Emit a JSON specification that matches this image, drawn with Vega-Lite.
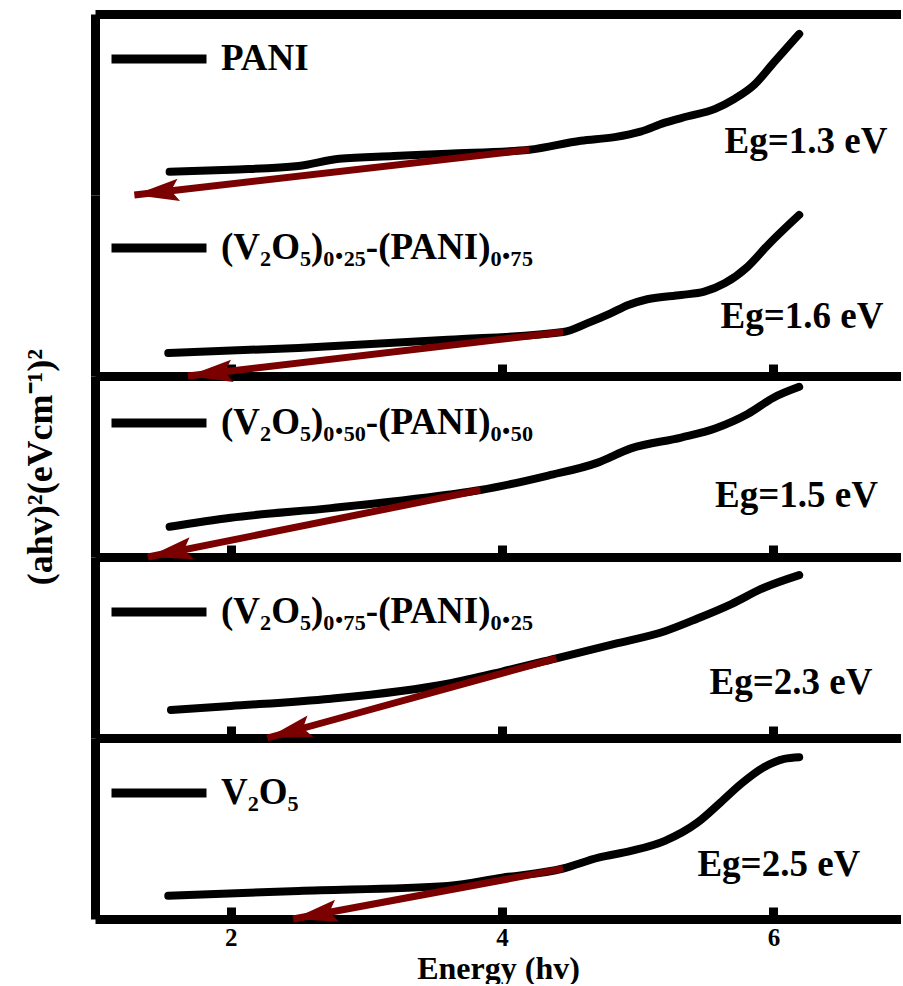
{
  "$schema": "https://vega.github.io/schema/vega-lite/v6.json",
  "padding": {"left": 22, "top": 7, "right": 0, "bottom": 0},
  "background": "white",
  "config": {
    "font": "Liberation Serif",
    "view": {"stroke": null},
    "axis": {"labelFont": "Liberation Serif", "labelFontSize": 25, "labelFontWeight": "bold", "labelColor": "black", "titleFont": "Liberation Serif", "titleFontSize": 34, "titleFontWeight": "bold", "titleColor": "black", "grid": false},
    "legend": {"orient": "none", "legendX": 12, "labelFont": "Liberation Serif", "labelFontSize": 37, "labelFontWeight": "bold", "labelColor": "black", "labelLimit": 1000, "symbolType": "stroke", "symbolSize": 9025, "symbolStrokeWidth": 9, "labelOffset": 10}
  },
  "datasets": {
    "curves": [
      {"sample": "PANI", "E": 1.55, "v": 12.8}, {"sample": "PANI", "E": 2.0, "v": 14}, {"sample": "PANI", "E": 2.5, "v": 16}, {"sample": "PANI", "E": 2.8, "v": 20}, {"sample": "PANI", "E": 3.2, "v": 21.5}, {"sample": "PANI", "E": 3.6, "v": 22.8}, {"sample": "PANI", "E": 4.2, "v": 25}, {"sample": "PANI", "E": 4.58, "v": 30}, {"sample": "PANI", "E": 4.83, "v": 32}, {"sample": "PANI", "E": 5.02, "v": 35}, {"sample": "PANI", "E": 5.2, "v": 40}, {"sample": "PANI", "E": 5.37, "v": 43.5}, {"sample": "PANI", "E": 5.57, "v": 47.6}, {"sample": "PANI", "E": 5.71, "v": 53}, {"sample": "PANI", "E": 5.86, "v": 61}, {"sample": "PANI", "E": 6.0, "v": 73}, {"sample": "PANI", "E": 6.19, "v": 89},
      {"sample": "(V₂O₅)₀.₂₅-(PANI)₀.₇₅", "E": 1.54, "v": 12.7}, {"sample": "(V₂O₅)₀.₂₅-(PANI)₀.₇₅", "E": 2.5, "v": 15.5}, {"sample": "(V₂O₅)₀.₂₅-(PANI)₀.₇₅", "E": 3.6, "v": 20}, {"sample": "(V₂O₅)₀.₂₅-(PANI)₀.₇₅", "E": 4.45, "v": 24.3}, {"sample": "(V₂O₅)₀.₂₅-(PANI)₀.₇₅", "E": 4.63, "v": 29.2}, {"sample": "(V₂O₅)₀.₂₅-(PANI)₀.₇₅", "E": 4.8, "v": 34.6}, {"sample": "(V₂O₅)₀.₂₅-(PANI)₀.₇₅", "E": 4.93, "v": 39.2}, {"sample": "(V₂O₅)₀.₂₅-(PANI)₀.₇₅", "E": 5.07, "v": 42.4}, {"sample": "(V₂O₅)₀.₂₅-(PANI)₀.₇₅", "E": 5.32, "v": 44.8}, {"sample": "(V₂O₅)₀.₂₅-(PANI)₀.₇₅", "E": 5.49, "v": 46.6}, {"sample": "(V₂O₅)₀.₂₅-(PANI)₀.₇₅", "E": 5.64, "v": 51.2}, {"sample": "(V₂O₅)₀.₂₅-(PANI)₀.₇₅", "E": 5.81, "v": 60.4}, {"sample": "(V₂O₅)₀.₂₅-(PANI)₀.₇₅", "E": 5.96, "v": 72.4}, {"sample": "(V₂O₅)₀.₂₅-(PANI)₀.₇₅", "E": 6.19, "v": 89},
      {"sample": "(V₂O₅)₀.₅₀-(PANI)₀.₅₀", "E": 1.55, "v": 16.7}, {"sample": "(V₂O₅)₀.₅₀-(PANI)₀.₅₀", "E": 2.0, "v": 21.7}, {"sample": "(V₂O₅)₀.₅₀-(PANI)₀.₅₀", "E": 2.74, "v": 27}, {"sample": "(V₂O₅)₀.₅₀-(PANI)₀.₅₀", "E": 3.6, "v": 34.4}, {"sample": "(V₂O₅)₀.₅₀-(PANI)₀.₅₀", "E": 3.84, "v": 37}, {"sample": "(V₂O₅)₀.₅₀-(PANI)₀.₅₀", "E": 4.34, "v": 45}, {"sample": "(V₂O₅)₀.₅₀-(PANI)₀.₅₀", "E": 4.7, "v": 52}, {"sample": "(V₂O₅)₀.₅₀-(PANI)₀.₅₀", "E": 4.95, "v": 60}, {"sample": "(V₂O₅)₀.₅₀-(PANI)₀.₅₀", "E": 5.32, "v": 66}, {"sample": "(V₂O₅)₀.₅₀-(PANI)₀.₅₀", "E": 5.57, "v": 71}, {"sample": "(V₂O₅)₀.₅₀-(PANI)₀.₅₀", "E": 5.81, "v": 79}, {"sample": "(V₂O₅)₀.₅₀-(PANI)₀.₅₀", "E": 6.0, "v": 88}, {"sample": "(V₂O₅)₀.₅₀-(PANI)₀.₅₀", "E": 6.19, "v": 94},
      {"sample": "(V₂O₅)₀.₇₅-(PANI)₀.₂₅", "E": 1.56, "v": 15.5}, {"sample": "(V₂O₅)₀.₇₅-(PANI)₀.₂₅", "E": 2.0, "v": 17.7}, {"sample": "(V₂O₅)₀.₇₅-(PANI)₀.₂₅", "E": 2.74, "v": 21.7}, {"sample": "(V₂O₅)₀.₇₅-(PANI)₀.₂₅", "E": 3.6, "v": 30}, {"sample": "(V₂O₅)₀.₇₅-(PANI)₀.₂₅", "E": 4.0, "v": 36.7}, {"sample": "(V₂O₅)₀.₇₅-(PANI)₀.₂₅", "E": 4.4, "v": 44}, {"sample": "(V₂O₅)₀.₇₅-(PANI)₀.₂₅", "E": 4.83, "v": 52}, {"sample": "(V₂O₅)₀.₇₅-(PANI)₀.₂₅", "E": 5.2, "v": 59}, {"sample": "(V₂O₅)₀.₇₅-(PANI)₀.₂₅", "E": 5.44, "v": 66}, {"sample": "(V₂O₅)₀.₇₅-(PANI)₀.₂₅", "E": 5.69, "v": 74}, {"sample": "(V₂O₅)₀.₇₅-(PANI)₀.₂₅", "E": 5.93, "v": 83}, {"sample": "(V₂O₅)₀.₇₅-(PANI)₀.₂₅", "E": 6.19, "v": 90},
      {"sample": "V₂O₅", "E": 1.54, "v": 12.8}, {"sample": "V₂O₅", "E": 2.5, "v": 15.5}, {"sample": "V₂O₅", "E": 3.6, "v": 18.3}, {"sample": "V₂O₅", "E": 4.0, "v": 22.8}, {"sample": "V₂O₅", "E": 4.45, "v": 27.9}, {"sample": "V₂O₅", "E": 4.71, "v": 33.9}, {"sample": "V₂O₅", "E": 4.95, "v": 37.6}, {"sample": "V₂O₅", "E": 5.2, "v": 43.2}, {"sample": "V₂O₅", "E": 5.44, "v": 53.3}, {"sample": "V₂O₅", "E": 5.61, "v": 64.4}, {"sample": "V₂O₅", "E": 5.76, "v": 74.6}, {"sample": "V₂O₅", "E": 5.93, "v": 83.9}, {"sample": "V₂O₅", "E": 6.08, "v": 88.5}, {"sample": "V₂O₅", "E": 6.19, "v": 89.4}
    ],
    "fits": [
      {"sample": "PANI", "point": "tip", "E": 1.29, "v": 0}, {"sample": "PANI", "point": "end", "E": 4.2, "v": 25},
      {"sample": "(V₂O₅)₀.₂₅-(PANI)₀.₇₅", "point": "tip", "E": 1.685, "v": 0}, {"sample": "(V₂O₅)₀.₂₅-(PANI)₀.₇₅", "point": "end", "E": 4.45, "v": 24.3},
      {"sample": "(V₂O₅)₀.₅₀-(PANI)₀.₅₀", "point": "tip", "E": 1.39, "v": 0}, {"sample": "(V₂O₅)₀.₅₀-(PANI)₀.₅₀", "point": "end", "E": 3.84, "v": 37},
      {"sample": "(V₂O₅)₀.₇₅-(PANI)₀.₂₅", "point": "tip", "E": 2.27, "v": 0}, {"sample": "(V₂O₅)₀.₇₅-(PANI)₀.₂₅", "point": "end", "E": 4.4, "v": 44},
      {"sample": "V₂O₅", "point": "tip", "E": 2.46, "v": 0}, {"sample": "V₂O₅", "point": "end", "E": 4.45, "v": 27.8}
    ],
    "eglabels": [
      {"sample": "PANI", "Eg": 1.3},
      {"sample": "(V₂O₅)₀.₂₅-(PANI)₀.₇₅", "Eg": 1.6},
      {"sample": "(V₂O₅)₀.₅₀-(PANI)₀.₅₀", "Eg": 1.5},
      {"sample": "(V₂O₅)₀.₇₅-(PANI)₀.₂₅", "Eg": 2.3},
      {"sample": "V₂O₅", "Eg": 2.5}
    ]
  },
  "spacing": 0,
  "bounds": "flush",
  "resolve": {"scale": {"color": "independent"}, "legend": {"color": "independent"}},
  "vconcat": [
    {
      "width": 806, "height": 181,
      "layer": [
        {"data": {"name": "curves"}, "transform": [{"filter": {"field": "sample", "equal": "PANI"}}], "mark": {"type": "line", "strokeWidth": 8, "strokeCap": "round", "strokeJoin": "round", "interpolate": "monotone"},
         "encoding": {
           "x": {"field": "E", "type": "quantitative", "scale": {"domain": [1, 6.94], "nice": false, "zero": false}, "axis": {"values": [2, 4, 6], "labels": false, "title": null, "tickSize": -12, "tickWidth": 9, "tickColor": "black", "domainWidth": 9, "domainColor": "black"}},
           "y": {"field": "v", "type": "quantitative", "scale": {"domain": [0, 100], "nice": false, "zero": false}, "axis": {"ticks": false, "labels": false, "title": null, "domainWidth": 9, "domainColor": "black"}},
           "color": {"field": "sample", "type": "nominal", "scale": {"range": ["#000000"]}, "legend": {"title": null, "legendY": -7}}}},
        {"data": {"name": "fits"}, "transform": [{"filter": {"field": "sample", "equal": "PANI"}}], "mark": {"type": "line", "color": "#7B0000", "strokeWidth": 7},
         "encoding": {"x": {"field": "E", "type": "quantitative", "axis": {"orient": "top", "labels": false, "ticks": false, "title": null, "domainWidth": 9, "domainColor": "black"}}, "y": {"field": "v", "type": "quantitative"}}},
        {"data": {"name": "fits"}, "transform": [{"filter": {"field": "sample", "equal": "PANI"}}, {"filter": {"field": "point", "equal": "tip"}}], "mark": {"type": "point", "shape": "M0,0L2,-0.5L1.65,0L2,0.5Z", "filled": true, "color": "#7B0000", "opacity": 1, "size": 2000, "angle": -6.5},
         "encoding": {"x": {"field": "E", "type": "quantitative"}, "y": {"field": "v", "type": "quantitative"}}},
        {"data": {"name": "eglabels"}, "transform": [{"filter": {"field": "sample", "equal": "PANI"}}, {"calculate": "'Eg=' + format(datum.Eg, '.1f') + ' eV'", "as": "txt"}], "mark": {"type": "text", "fontSize": 37, "fontWeight": "bold", "align": "right", "baseline": "alphabetic", "color": "black", "font": "Liberation Serif"},
         "encoding": {"x": {"datum": 6.84}, "y": {"datum": 23}, "text": {"field": "txt", "type": "nominal"}}}
      ]
    },
    {
      "width": 806, "height": 181,
      "layer": [
        {"data": {"name": "curves"}, "transform": [{"filter": {"field": "sample", "equal": "(V₂O₅)₀.₂₅-(PANI)₀.₇₅"}}], "mark": {"type": "line", "strokeWidth": 8, "strokeCap": "round", "strokeJoin": "round", "interpolate": "monotone"},
         "encoding": {
           "x": {"field": "E", "type": "quantitative", "scale": {"domain": [1, 6.94], "nice": false, "zero": false}, "axis": {"values": [2, 4, 6], "labels": false, "title": null, "tickSize": -12, "tickWidth": 9, "tickColor": "black", "domainWidth": 9, "domainColor": "black"}},
           "y": {"field": "v", "type": "quantitative", "scale": {"domain": [0, 100], "nice": false, "zero": false}, "axis": {"ticks": false, "labels": false, "title": null, "domainWidth": 9, "domainColor": "black"}},
           "color": {"field": "sample", "type": "nominal", "scale": {"range": ["#000000"]}, "legend": {"title": null, "legendY": 1}}}},
        {"data": {"name": "fits"}, "transform": [{"filter": {"field": "sample", "equal": "(V₂O₅)₀.₂₅-(PANI)₀.₇₅"}}], "mark": {"type": "line", "color": "#7B0000", "strokeWidth": 7},
         "encoding": {"x": {"field": "E", "type": "quantitative"}, "y": {"field": "v", "type": "quantitative"}}},
        {"data": {"name": "fits"}, "transform": [{"filter": {"field": "sample", "equal": "(V₂O₅)₀.₂₅-(PANI)₀.₇₅"}}, {"filter": {"field": "point", "equal": "tip"}}], "mark": {"type": "point", "shape": "M0,0L2,-0.5L1.65,0L2,0.5Z", "filled": true, "color": "#7B0000", "opacity": 1, "size": 2000, "angle": -6.7},
         "encoding": {"x": {"field": "E", "type": "quantitative"}, "y": {"field": "v", "type": "quantitative"}}},
        {"data": {"name": "eglabels"}, "transform": [{"filter": {"field": "sample", "equal": "(V₂O₅)₀.₂₅-(PANI)₀.₇₅"}}, {"calculate": "'Eg=' + format(datum.Eg, '.1f') + ' eV'", "as": "txt"}], "mark": {"type": "text", "fontSize": 37, "fontWeight": "bold", "align": "right", "baseline": "alphabetic", "color": "black", "font": "Liberation Serif"},
         "encoding": {"x": {"datum": 6.81}, "y": {"datum": 26.5}, "text": {"field": "txt", "type": "nominal"}}}
      ]
    },
    {
      "width": 806, "height": 181,
      "layer": [
        {"data": {"name": "curves"}, "transform": [{"filter": {"field": "sample", "equal": "(V₂O₅)₀.₅₀-(PANI)₀.₅₀"}}], "mark": {"type": "line", "strokeWidth": 8, "strokeCap": "round", "strokeJoin": "round", "interpolate": "monotone"},
         "encoding": {
           "x": {"field": "E", "type": "quantitative", "scale": {"domain": [1, 6.94], "nice": false, "zero": false}, "axis": {"values": [2, 4, 6], "labels": false, "title": null, "tickSize": -12, "tickWidth": 9, "tickColor": "black", "domainWidth": 9, "domainColor": "black"}},
           "y": {"field": "v", "type": "quantitative", "scale": {"domain": [0, 100], "nice": false, "zero": false}, "axis": {"ticks": false, "labels": false, "title": "(ahv)²(eVcm⁻¹)²", "titleFontSize": 36, "titlePadding": 36, "domainWidth": 9, "domainColor": "black"}},
           "color": {"field": "sample", "type": "nominal", "scale": {"range": ["#000000"]}, "legend": {"title": null, "legendY": -5}}}},
        {"data": {"name": "fits"}, "transform": [{"filter": {"field": "sample", "equal": "(V₂O₅)₀.₅₀-(PANI)₀.₅₀"}}], "mark": {"type": "line", "color": "#7B0000", "strokeWidth": 7},
         "encoding": {"x": {"field": "E", "type": "quantitative"}, "y": {"field": "v", "type": "quantitative"}}},
        {"data": {"name": "fits"}, "transform": [{"filter": {"field": "sample", "equal": "(V₂O₅)₀.₅₀-(PANI)₀.₅₀"}}, {"filter": {"field": "point", "equal": "tip"}}], "mark": {"type": "point", "shape": "M0,0L2,-0.5L1.65,0L2,0.5Z", "filled": true, "color": "#7B0000", "opacity": 1, "size": 2000, "angle": -11.3},
         "encoding": {"x": {"field": "E", "type": "quantitative"}, "y": {"field": "v", "type": "quantitative"}}},
        {"data": {"name": "eglabels"}, "transform": [{"filter": {"field": "sample", "equal": "(V₂O₅)₀.₅₀-(PANI)₀.₅₀"}}, {"calculate": "'Eg=' + format(datum.Eg, '.1f') + ' eV'", "as": "txt"}], "mark": {"type": "text", "fontSize": 37, "fontWeight": "bold", "align": "right", "baseline": "alphabetic", "color": "black", "font": "Liberation Serif"},
         "encoding": {"x": {"datum": 6.77}, "y": {"datum": 27.8}, "text": {"field": "txt", "type": "nominal"}}}
      ]
    },
    {
      "width": 806, "height": 181,
      "layer": [
        {"data": {"name": "curves"}, "transform": [{"filter": {"field": "sample", "equal": "(V₂O₅)₀.₇₅-(PANI)₀.₂₅"}}], "mark": {"type": "line", "strokeWidth": 8, "strokeCap": "round", "strokeJoin": "round", "interpolate": "monotone"},
         "encoding": {
           "x": {"field": "E", "type": "quantitative", "scale": {"domain": [1, 6.94], "nice": false, "zero": false}, "axis": {"values": [2, 4, 6], "labels": false, "title": null, "tickSize": -12, "tickWidth": 9, "tickColor": "black", "domainWidth": 9, "domainColor": "black"}},
           "y": {"field": "v", "type": "quantitative", "scale": {"domain": [0, 100], "nice": false, "zero": false}, "axis": {"ticks": false, "labels": false, "title": null, "domainWidth": 9, "domainColor": "black"}},
           "color": {"field": "sample", "type": "nominal", "scale": {"range": ["#000000"]}, "legend": {"title": null, "legendY": 3}}}},
        {"data": {"name": "fits"}, "transform": [{"filter": {"field": "sample", "equal": "(V₂O₅)₀.₇₅-(PANI)₀.₂₅"}}], "mark": {"type": "line", "color": "#7B0000", "strokeWidth": 7},
         "encoding": {"x": {"field": "E", "type": "quantitative"}, "y": {"field": "v", "type": "quantitative"}}},
        {"data": {"name": "fits"}, "transform": [{"filter": {"field": "sample", "equal": "(V₂O₅)₀.₇₅-(PANI)₀.₂₅"}}, {"filter": {"field": "point", "equal": "tip"}}], "mark": {"type": "point", "shape": "M0,0L2,-0.5L1.65,0L2,0.5Z", "filled": true, "color": "#7B0000", "opacity": 1, "size": 2000, "angle": -15.3},
         "encoding": {"x": {"field": "E", "type": "quantitative"}, "y": {"field": "v", "type": "quantitative"}}},
        {"data": {"name": "eglabels"}, "transform": [{"filter": {"field": "sample", "equal": "(V₂O₅)₀.₇₅-(PANI)₀.₂₅"}}, {"calculate": "'Eg=' + format(datum.Eg, '.1f') + ' eV'", "as": "txt"}], "mark": {"type": "text", "fontSize": 37, "fontWeight": "bold", "align": "right", "baseline": "alphabetic", "color": "black", "font": "Liberation Serif"},
         "encoding": {"x": {"datum": 6.73}, "y": {"datum": 24.4}, "text": {"field": "txt", "type": "nominal"}}}
      ]
    },
    {
      "width": 806, "height": 181,
      "layer": [
        {"data": {"name": "curves"}, "transform": [{"filter": {"field": "sample", "equal": "V₂O₅"}}], "mark": {"type": "line", "strokeWidth": 8, "strokeCap": "round", "strokeJoin": "round", "interpolate": "monotone"},
         "encoding": {
           "x": {"field": "E", "type": "quantitative", "scale": {"domain": [1, 6.94], "nice": false, "zero": false}, "axis": {"values": [2, 4, 6], "format": "d", "labels": true, "labelFontSize": 25, "title": "Energy (hv)", "titleFontSize": 32, "labelPadding": 18, "titlePadding": 3, "tickSize": -12, "tickWidth": 9, "tickColor": "black", "domainWidth": 9, "domainColor": "black"}},
           "y": {"field": "v", "type": "quantitative", "scale": {"domain": [0, 100], "nice": false, "zero": false}, "axis": {"ticks": false, "labels": false, "title": null, "domainWidth": 9, "domainColor": "black"}},
           "color": {"field": "sample", "type": "nominal", "scale": {"range": ["#000000"]}, "legend": {"title": null, "legendY": 3}}}},
        {"data": {"name": "fits"}, "transform": [{"filter": {"field": "sample", "equal": "V₂O₅"}}], "mark": {"type": "line", "color": "#7B0000", "strokeWidth": 7},
         "encoding": {"x": {"field": "E", "type": "quantitative"}, "y": {"field": "v", "type": "quantitative"}}},
        {"data": {"name": "fits"}, "transform": [{"filter": {"field": "sample", "equal": "V₂O₅"}}, {"filter": {"field": "point", "equal": "tip"}}], "mark": {"type": "point", "shape": "M0,0L2,-0.5L1.65,0L2,0.5Z", "filled": true, "color": "#7B0000", "opacity": 1, "size": 2000, "angle": -10.5},
         "encoding": {"x": {"field": "E", "type": "quantitative"}, "y": {"field": "v", "type": "quantitative"}}},
        {"data": {"name": "eglabels"}, "transform": [{"filter": {"field": "sample", "equal": "V₂O₅"}}, {"calculate": "'Eg=' + format(datum.Eg, '.1f') + ' eV'", "as": "txt"}], "mark": {"type": "text", "fontSize": 37, "fontWeight": "bold", "align": "right", "baseline": "alphabetic", "color": "black", "font": "Liberation Serif"},
         "encoding": {"x": {"datum": 6.64}, "y": {"datum": 23.9}, "text": {"field": "txt", "type": "nominal"}}}
      ]
    }
  ]
}
